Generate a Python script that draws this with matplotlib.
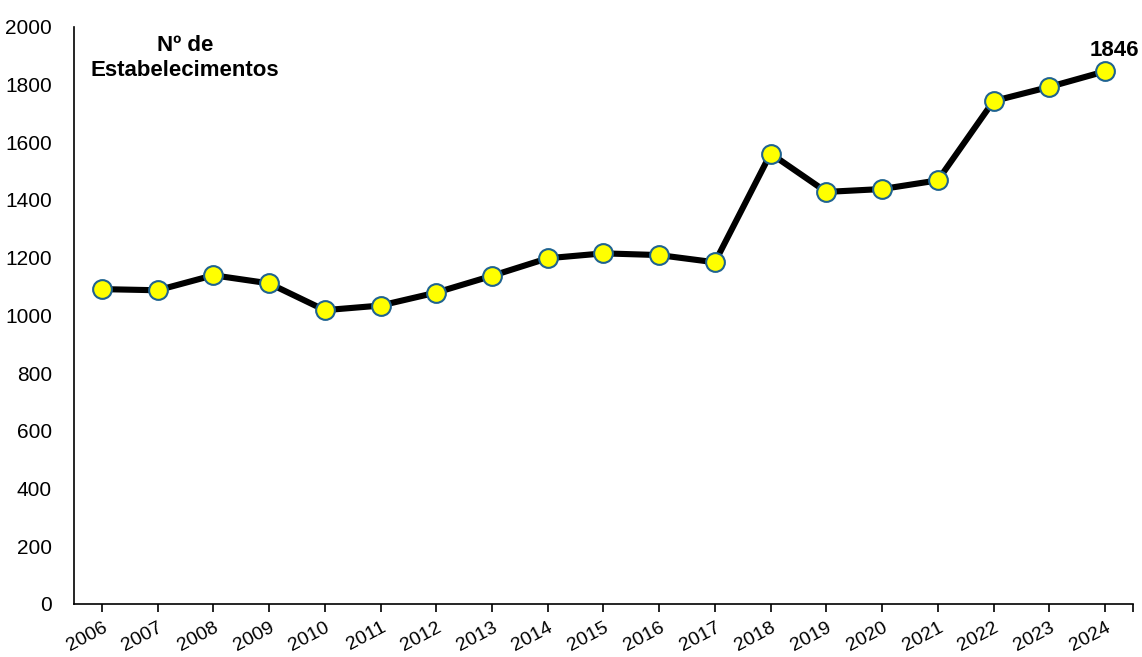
import matplotlib
matplotlib.use("Agg")
import matplotlib.pyplot as plt

plt.rcParams.update({
    "font.family": ["Liberation Sans Narrow", "Liberation Sans", "DejaVu Sans"],
    "font.size": 15,
})

years = ["2006", "2007", "2008", "2009", "2010", "2011", "2012", "2013", "2014",
         "2015", "2016", "2017", "2018", "2019", "2020", "2021", "2022", "2023", "2024"]
estabelecimentos = [1091, 1087, 1139, 1111, 1018, 1034, 1079, 1137, 1198,
                    1215, 1209, 1184, 1561, 1428, 1438, 1468, 1743, 1792, 1846]
y_ticks = [0, 200, 400, 600, 800, 1000, 1200, 1400, 1600, 1800, 2000]

fig = plt.figure(figsize=(11.42, 6.57), dpi=100)
ax = fig.add_subplot(111)
fig.subplots_adjust(left=0.0648, right=0.992, bottom=0.081, top=0.959)

x = list(range(len(years)))
ax.plot(x, estabelecimentos, color="black", linewidth=4.4, zorder=2,
        marker="o", markersize=13.5, markerfacecolor="#FFFF00",
        markeredgecolor="#1F6390", markeredgewidth=1.5)

ax.set_xlim(-0.5, len(years) - 0.5)
ax.set_ylim(0, 2000)
ax.set_yticks(y_ticks)
ax.tick_params(axis="y", length=0, pad=16, labelsize=15)

# ticks at each year plus one at the right end of the axis
ax.set_xticks(x + [len(years) - 0.5])
ax.set_xticklabels(years + [""], fontsize=14)
ax.tick_params(axis="x", length=6, width=1.2, direction="out", pad=5)
for lbl in ax.get_xticklabels():
    lbl.set_rotation(28)
    lbl.set_rotation_mode("anchor")
    lbl.set_ha("right")
    lbl.set_va("top")

for s in ["top", "right"]:
    ax.spines[s].set_visible(False)
ax.spines["left"].set_linewidth(1.2)
ax.spines["bottom"].set_linewidth(1.2)

ax.text(0.105, 0.947, "Nº de\nEstabelecimentos", transform=ax.transAxes,
        ha="center", va="center", multialignment="center",
        fontsize=16, fontweight="bold", linespacing=1.25)

ax.annotate(str(estabelecimentos[-1]), xy=(x[-1], estabelecimentos[-1]),
            xytext=(6.5, 15), textcoords="offset points",
            ha="center", va="center", fontsize=16, fontweight="bold")

fig.savefig("out.png", dpi=100)
